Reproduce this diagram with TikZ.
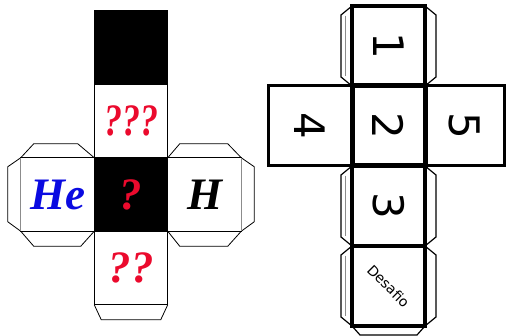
\documentclass[tikz,border=0pt]{standalone}
\usepackage{fontspec}
\usepackage{tikz}
\usetikzlibrary{positioning,calc}
\newfontfamily\quizfont{Liberation Serif}
\newfontfamily\digitfont{DejaVu Sans}
\definecolor{quizred}{RGB}{235,10,45}
\definecolor{quizblue}{RGB}{10,10,225}
\definecolor{foldgray}{RGB}{140,140,140}
\newcommand{\turned}[1]{\rotatebox{-90}{#1}}

\begin{document}
\begin{tikzpicture}[
  x=1pt,y=-1pt,
  face/.style={
    draw=black,
    line width=.8pt,
    minimum width=73.5pt,
    minimum height=73.5pt,
    outer sep=0pt,
    inner sep=0pt,
    font=\quizfont\bfseries\itshape\fontsize{45}{45}\selectfont
  },
  tab/.style={draw=black,line width=.8pt},
  die/.style={
    draw=black,
    line width=3.5pt,
    minimum width=73pt,
    minimum height=80pt,
    outer sep=0pt,
    inner sep=0pt,
    font=\digitfont\fontsize{42}{42}\selectfont
  },
  dtab/.style={draw=black,line width=1.2pt}
]
\useasboundingbox (0,0) rectangle (507,336);

% left net
\node[face,fill=black,text=quizred] (center) at (131,194.5) {?};
\node[face,text=quizred,above=0pt of center] (qthree) {\scalebox{.8}[1]{???}};
\node[face,fill=black,above=0pt of qthree] (cap) {};
\node[face,text=quizred,below=0pt of center] (qtwo) {??};
\node[face,text=quizblue,left=0pt of center] (he) {He};
\node[face,right=0pt of center] (hy) {H};

\draw[tab] (he.north west) -- ++(13,-14) -- ++(44,0) -- (he.north east);
\draw[tab] (he.north west) -- ++(-13,9) -- ++(0,55) -- (he.south west);
\draw[tab] (he.south west) -- ++(13,15) -- ++(47,0) -- (he.south east);
\draw[foldgray,line width=1pt] (he.north west) -- (he.south west);
\draw[tab] (hy.north west) -- ++(12,-14) -- ++(48,0) -- (hy.north east);
\draw[tab] (hy.north east) -- ++(13,9) -- ++(0,55) -- (hy.south east);
\draw[tab] (hy.south west) -- ++(12,15) -- ++(48,0) -- (hy.south east);
\draw[foldgray,line width=1pt] (hy.north east) -- (hy.south east);
\draw[tab] (qtwo.south west) -- ++(7,15) -- ++(59.5,0) -- (qtwo.south east);

% right net
\node[die,draw=none] (two) at (388.5,126) {};
\node[die,above=0pt of two] (one) {\turned{1}};
\node[die,below=0pt of two] (three) {\turned{3}};
\node[die,below=0pt of three] (desafio) {\rotatebox{-45}{\fontsize{14}{14}\selectfont Desafio}};
\node[die,line width=3pt,minimum width=84pt,left=0pt of two] (four) {\turned{4}};
\node[die,line width=3pt,minimum width=79pt,right=0pt of two] (five) {\turned{5}};
\node[die,line width=5pt] at (two) {\turned{2}};

\foreach \f in {one,three,desafio}{
  \draw[dtab] (\f.north west) -- ++(-11,9) -- ++(0,62) -- (\f.south west);
  \draw[dtab] (\f.north east) -- ++(11,9) -- ++(0,62) -- (\f.south east);
  \draw[foldgray,line width=.6pt] ($(\f.north west)+(-7,10)$) -- ($(\f.south west)+(-7,-10)$);
}
\draw[dtab] (desafio.south west) -- ++(8,9) -- ++(57,0) -- (desafio.south east);
\end{tikzpicture}
\end{document}
